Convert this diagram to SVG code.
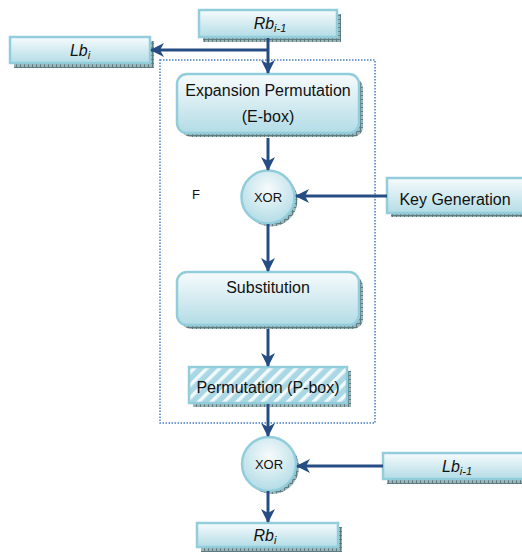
<svg xmlns="http://www.w3.org/2000/svg" width="522" height="553" viewBox="0 0 522 553">
<defs>
<linearGradient id="g" x1="0" y1="0" x2="0" y2="1">
<stop offset="0" stop-color="#f7fbfc"/>
<stop offset="1" stop-color="#b3dce6"/>
</linearGradient>
<radialGradient id="gc" cx="0.5" cy="0.35" r="0.65">
<stop offset="0" stop-color="#f7fbfc"/>
<stop offset="1" stop-color="#b3dce6"/>
</radialGradient>
<pattern id="sh" width="4" height="4" patternUnits="userSpaceOnUse">
<rect width="4" height="4" fill="#9fb3b6"/>
<path d="M0.5,0 V4 M0,3.5 H4" stroke="#5d7c82" stroke-width="1"/>
</pattern>
<pattern id="hatch" width="9" height="9" patternUnits="userSpaceOnUse" patternTransform="rotate(45)">
<rect width="9" height="9" fill="#a9d7e3"/>
<rect x="0" y="0" width="3.5" height="9" fill="#f2f9fb"/>
</pattern>
<marker id="ah" markerWidth="14" markerHeight="14" viewBox="0 0 14 14" refX="13" refY="7" orient="auto" markerUnits="userSpaceOnUse">
<path d="M0,0 L14,7 L0,14 L4,7 z" fill="#264c84"/>
</marker>
<style>
.box{fill:url(#g);stroke:#92cddc;stroke-width:2.5}
.sh{fill:url(#sh)}
.t{font-family:"Liberation Sans",Arial,sans-serif;font-size:16px;fill:#111;text-anchor:middle}
.ti{font-family:"Liberation Sans",Arial,sans-serif;font-size:16px;font-style:italic;fill:#111;text-anchor:middle}
.sub{font-size:11px}
.c{stroke:#264c84;stroke-width:3;fill:none}
</style>
</defs>

<rect x="160" y="60" width="215" height="363" fill="none" stroke="#4a7fc8" stroke-width="1.5" stroke-dasharray="1.5 1.5"/>

<g id="Rb_prev">
<rect class="sh" x="203" y="14" width="138" height="28"/>
<rect class="box" x="199" y="10" width="138" height="27"/>
<text class="ti" x="270" y="29">Rb<tspan class="sub" dy="3">i-1</tspan></text>
</g>

<g id="Lb_i">
<rect class="sh" x="14" y="41" width="140" height="27"/>
<rect class="box" x="10" y="37" width="140" height="26"/>
<text class="ti" x="80" y="56">Lb<tspan class="sub" dy="3">i</tspan></text>
</g>

<g id="ebox">
<rect class="sh" x="181" y="78" width="182" height="59" rx="10"/>
<rect class="box" x="177" y="74" width="182" height="59" rx="10"/>
<text class="t" x="268" y="96">Expansion Permutation</text>
<text class="t" x="268" y="122">(E-box)</text>
</g>

<text id="F" class="t" x="196" y="199" style="font-size:13px">F</text>

<g id="xor1">
<circle class="sh" cx="271" cy="200" r="26.5"/>
<circle cx="268" cy="197" r="26.5" fill="url(#gc)" stroke="#92cddc" stroke-width="2.5"/>
<text class="t" x="268" y="202" style="font-size:13px">XOR</text>
</g>

<g id="keygen">
<rect class="sh" x="391" y="182" width="131" height="35"/>
<rect class="box" x="387" y="178" width="140" height="35"/>
<text class="t" x="455" y="205">Key Generation</text>
</g>

<g id="subst">
<rect class="sh" x="181" y="276" width="182" height="53" rx="10"/>
<rect class="box" x="177" y="272" width="182" height="53" rx="10"/>
<text class="t" x="268" y="293">Substitution</text>
</g>

<g id="pbox">
<rect class="sh" x="193" y="371" width="158" height="36"/>
<rect x="189" y="367" width="158" height="36" fill="url(#hatch)" stroke="#92cddc" stroke-width="2.5"/>
<text class="t" x="268" y="393">Permutation (P-box)</text>
</g>

<g id="xor2">
<circle class="sh" cx="272" cy="467" r="27"/>
<circle cx="269" cy="464" r="27" fill="url(#gc)" stroke="#92cddc" stroke-width="2.5"/>
<text class="t" x="269" y="469" style="font-size:13px">XOR</text>
</g>

<g id="Lb_prev">
<rect class="sh" x="387" y="457" width="135" height="27"/>
<rect class="box" x="383" y="453" width="145" height="26"/>
<text class="ti" x="457" y="472">Lb<tspan class="sub" dy="3">i-1</tspan></text>
</g>

<g id="Rb_i">
<rect class="sh" x="201" y="527" width="141" height="25"/>
<rect class="box" x="197" y="523" width="141" height="24"/>
<text class="ti" x="265" y="541">Rb<tspan class="sub" dy="3">i</tspan></text>
</g>

<g id="connectors">
<line class="c" x1="268" y1="38" x2="268" y2="73" marker-end="url(#ah)"/>
<line class="c" x1="268" y1="50" x2="151" y2="50" marker-end="url(#ah)"/>
<line class="c" x1="268" y1="138" x2="268" y2="170" marker-end="url(#ah)"/>
<line class="c" x1="387" y1="196" x2="296" y2="196" marker-end="url(#ah)"/>
<line class="c" x1="268" y1="224" x2="268" y2="271" marker-end="url(#ah)"/>
<line class="c" x1="268" y1="329" x2="268" y2="366" marker-end="url(#ah)"/>
<line class="c" x1="268" y1="404" x2="268" y2="436" marker-end="url(#ah)"/>
<line class="c" x1="383" y1="466" x2="297" y2="466" marker-end="url(#ah)"/>
<line class="c" x1="268" y1="491" x2="268" y2="522" marker-end="url(#ah)"/>
</g>
</svg>
